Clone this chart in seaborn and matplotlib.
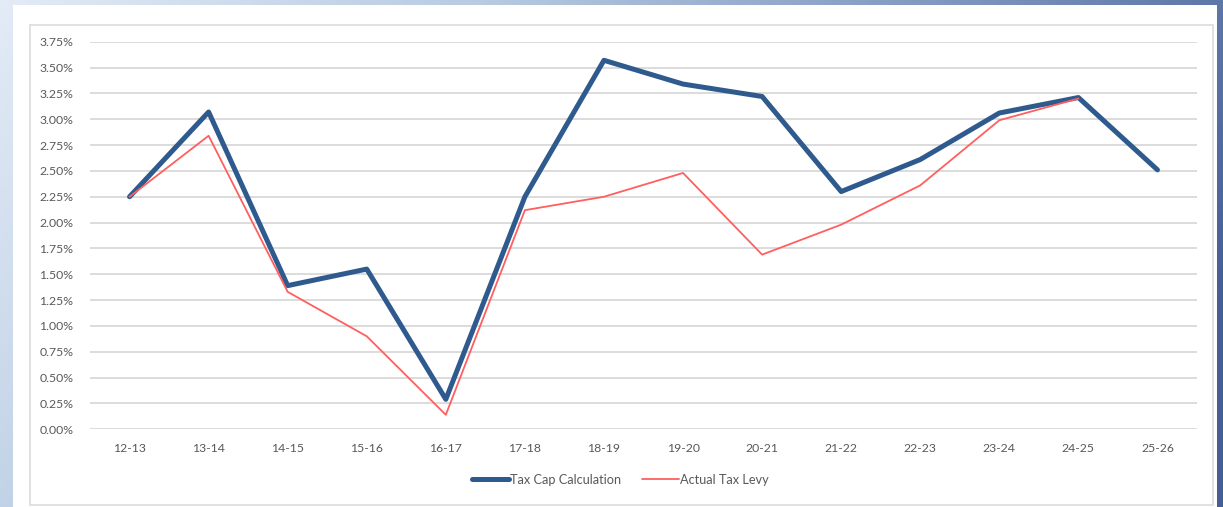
import numpy as np
import pandas as pd
import matplotlib
matplotlib.use("Agg")
import matplotlib.pyplot as plt
from matplotlib.patches import Rectangle
from matplotlib.colors import LinearSegmentedColormap
import seaborn as sns

# ---- data ----
years = ["12-13", "13-14", "14-15", "15-16", "16-17", "17-18", "18-19",
         "19-20", "20-21", "21-22", "22-23", "23-24", "24-25", "25-26"]
tax_cap = [2.25, 3.07, 1.39, 1.55, 0.29, 2.25, 3.57,
           3.34, 3.22, 2.30, 2.61, 3.06, 3.21, 2.51]
actual_levy = [2.25, 2.84, 1.33, 0.90, 0.14, 2.12, 2.25,
               2.48, 1.69, 1.98, 2.36, 2.99, 3.20, np.nan]
yticks = [0.0, 0.25, 0.5, 0.75, 1.0, 1.25, 1.5, 1.75, 2.0, 2.25,
          2.5, 2.75, 3.0, 3.25, 3.5, 3.75]

df_cap = pd.DataFrame({"year": years, "value": tax_cap})
df_levy = pd.DataFrame({"year": years, "value": actual_levy}).dropna()

sns.set_theme(style="white")
plt.rcParams['font.family'] = ['Lato', 'DejaVu Sans']

W, H = 1223, 507
fig = plt.figure(figsize=(W / 100, H / 100), dpi=100)

# background gradient
bg = fig.add_axes([0, 0, 1, 1], zorder=-10)
bg.set_axis_off()
gx = np.linspace(0, 1, 300)
gy = np.linspace(0, 1, 120)
GX, GY = np.meshgrid(gx, gy)
grad = np.clip(0.85 * GX + 0.25 * GY, 0, 1)
cmap = LinearSegmentedColormap.from_list("bgc", ["#e2ebf6", "#b8cbe2", "#7f95bf", "#435f96"])
bg.imshow(grad, cmap=cmap, aspect="auto", extent=[0, 1, 0, 1], origin="upper")
bg.set_xlim(0, 1)
bg.set_ylim(0, 1)

def fx(px):
    return px / W

def fy(py):
    return 1 - py / H

# white panel and inner border
fig.patches.append(Rectangle((fx(13), fy(507)), fx(1217) - fx(13), fy(5) - fy(507),
                             transform=fig.transFigure, facecolor="white",
                             edgecolor="none", zorder=-5))
fig.patches.append(Rectangle((fx(30), fy(505)), fx(1213) - fx(30), fy(25) - fy(505),
                             transform=fig.transFigure, facecolor="none",
                             edgecolor="#dcdcdc", linewidth=1.2, zorder=-4))

ax = fig.add_axes([fx(90), fy(429.3), fx(1197) - fx(90), fy(41.7) - fy(429.3)])
ax.set_facecolor("none")

sns.lineplot(data=df_cap, x="year", y="value", ax=ax, color="#2f5a8d",
             linewidth=3.6, label="Tax Cap Calculation", sort=False, zorder=3)
sns.lineplot(data=df_levy, x="year", y="value", ax=ax, color="#ff5f5f",
             linewidth=1.3, label="Actual Tax Levy", sort=False, zorder=4)

ax.set_xlim(-0.5, len(years) - 0.5)
ax.set_ylim(0, 3.75)
ax.set_yticks(yticks)
ax.set_yticklabels([f"{v:.2f}%" for v in yticks])
ax.set_xticks(range(len(years)))
ax.set_xticklabels(years)
ax.grid(axis="y", color="#d9d9d9", linewidth=1.3)
ax.set_axisbelow(True)
for s in ax.spines.values():
    s.set_visible(False)
ax.tick_params(axis="both", length=0, labelsize=8.8, labelcolor="#595959")
ax.tick_params(axis="y", pad=12)
ax.tick_params(axis="x", pad=10)
ax.set_xlabel("")
ax.set_ylabel("")

leg = ax.legend(loc="center", bbox_to_anchor=(0.479, -0.13), ncol=2,
                frameon=False, fontsize=9.2, handlelength=2.9, handletextpad=0.1,
                columnspacing=1.6)
for t in leg.get_texts():
    t.set_color("#595959")

fig.savefig("out.png", dpi=100)
